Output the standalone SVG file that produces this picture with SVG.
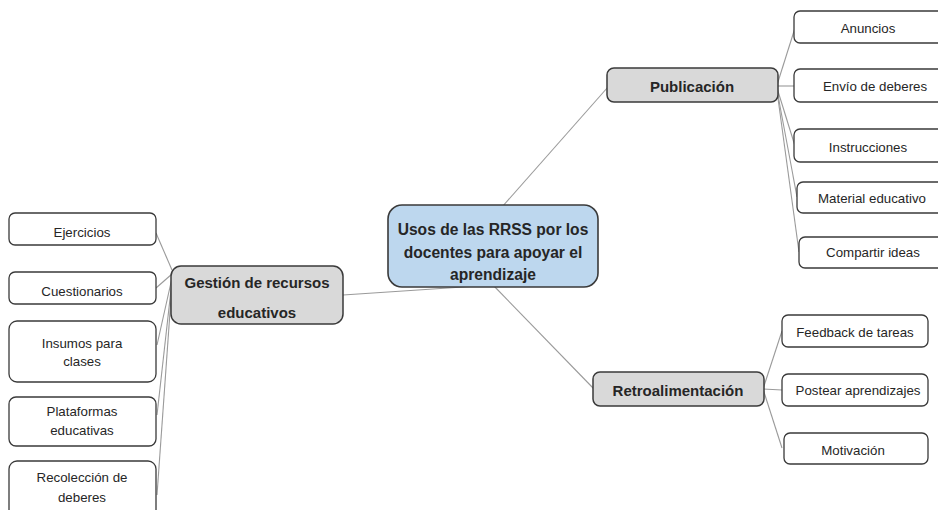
<svg xmlns="http://www.w3.org/2000/svg" width="938" height="510" viewBox="0 0 938 510">
<style>
.bg{fill:#ffffff}
.conn line{stroke:#9a9a9a;stroke-width:1.1;fill:none}
.leaf{fill:#ffffff;stroke:#3a3a3a;stroke-width:1.3}
.mid{fill:#d9d9d9;stroke:#3a3a3a;stroke-width:1.5}
.root{fill:#bdd7ee;stroke:#3a3a3a;stroke-width:1.6}
text{font-family:"Liberation Sans",Arial,sans-serif;fill:#262626;text-anchor:middle}
.t{font-size:13.3px}
.b{font-size:15px;font-weight:bold}
.rb{font-size:15.6px;font-weight:bold}
</style>
<rect class="bg" x="0" y="0" width="938" height="510"/>
<g id="connectors" class="conn">
<line x1="343" y1="295" x2="493" y2="285"/>
<line x1="502" y1="207" x2="608" y2="87"/>
<line x1="493" y1="285" x2="594" y2="389"/>
<line x1="156" y1="233" x2="172" y2="270"/>
<line x1="156" y1="288" x2="172" y2="274"/>
<line x1="157" y1="345" x2="172" y2="278"/>
<line x1="157" y1="415" x2="172" y2="281"/>
<line x1="157" y1="495" x2="172" y2="284"/>
<line x1="777" y1="85" x2="795" y2="28"/>
<line x1="777" y1="86" x2="795" y2="86"/>
<line x1="777" y1="88" x2="795" y2="146"/>
<line x1="777" y1="90" x2="797" y2="197"/>
<line x1="777" y1="91" x2="799" y2="252"/>
<line x1="763" y1="389" x2="782" y2="331"/>
<line x1="763" y1="389" x2="782" y2="390"/>
<line x1="763" y1="389" x2="782" y2="448"/>
</g>
<g id="root">
<rect class="root" x="388" y="205" width="210" height="82" rx="14"/>
<text class="rb" x="493" y="235">Usos de las RRSS por los</text>
<text class="rb" x="493" y="258">docentes para apoyar el</text>
<text class="rb" x="493" y="280">aprendizaje</text>
</g>
<g id="gestion">
<rect class="mid" x="171" y="266" width="172" height="58" rx="10"/>
<text class="b" x="257" y="288">Gestión de recursos</text>
<text class="b" x="257" y="318">educativos</text>
</g>
<g id="publicacion">
<rect class="mid" x="607" y="68" width="171" height="34" rx="7"/>
<text class="b" x="692" y="92">Publicación</text>
</g>
<g id="retroalimentacion">
<rect class="mid" x="593" y="372" width="171" height="34" rx="7"/>
<text class="b" x="678" y="396">Retroalimentación</text>
</g>
<g id="ejercicios">
<rect class="leaf" x="9" y="213" width="147" height="32" rx="6"/>
<text class="t" x="82" y="237">Ejercicios</text>
</g>
<g id="cuestionarios">
<rect class="leaf" x="9" y="272" width="147" height="32" rx="6"/>
<text class="t" x="82" y="296">Cuestionarios</text>
</g>
<g id="insumos">
<rect class="leaf" x="9" y="321" width="147" height="61" rx="8"/>
<text class="t" x="82" y="348">Insumos para</text>
<text class="t" x="82" y="366">clases</text>
</g>
<g id="plataformas">
<rect class="leaf" x="9" y="397" width="147" height="49" rx="7"/>
<text class="t" x="82" y="416">Plataformas</text>
<text class="t" x="82" y="435">educativas</text>
</g>
<g id="recoleccion">
<rect class="leaf" x="9" y="461" width="147" height="60" rx="8"/>
<text class="t" x="82" y="482">Recolección de</text>
<text class="t" x="82" y="502">deberes</text>
</g>
<g id="anuncios">
<rect class="leaf" x="794" y="11" width="154" height="32" rx="6"/>
<text class="t" x="868" y="33">Anuncios</text>
</g>
<g id="envio">
<rect class="leaf" x="794" y="69" width="154" height="33" rx="6"/>
<text class="t" x="875" y="91">Envío de deberes</text>
</g>
<g id="instrucciones">
<rect class="leaf" x="794" y="129" width="154" height="33" rx="6"/>
<text class="t" x="868" y="152">Instrucciones</text>
</g>
<g id="material">
<rect class="leaf" x="797" y="182" width="151" height="31" rx="6"/>
<text class="t" x="872" y="203">Material educativo</text>
</g>
<g id="compartir">
<rect class="leaf" x="799" y="237" width="149" height="31" rx="6"/>
<text class="t" x="873" y="257">Compartir ideas</text>
</g>
<g id="feedback">
<rect class="leaf" x="782" y="315" width="146" height="32" rx="6"/>
<text class="t" x="855" y="337">Feedback de tareas</text>
</g>
<g id="postear">
<rect class="leaf" x="782" y="374" width="146" height="32" rx="6"/>
<text class="t" x="858" y="395">Postear aprendizajes</text>
</g>
<g id="motivacion">
<rect class="leaf" x="784" y="433" width="144" height="31" rx="6"/>
<text class="t" x="853" y="455">Motivación</text>
</g>
</svg>
